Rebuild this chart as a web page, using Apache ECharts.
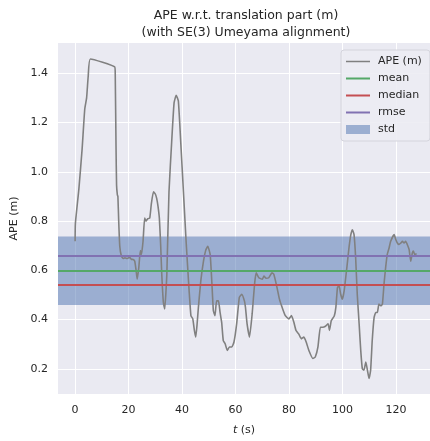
<!DOCTYPE html>
<html>
<head>
<meta charset="utf-8">
<script src="https://cdn.jsdelivr.net/npm/echarts@6/dist/echarts.min.js"></script>
<style>
  html, body { margin: 0; padding: 0; background: #ffffff; }
  #chart { width: 430px; height: 441px; }
</style>
</head>
<body>
<div id="chart"></div>
<script>
// Absolute pose error over time (seconds, metres)
const times = [
  0.0, 0.1, 1.4, 2.6, 3.6, 4.3, 4.9, 5.7, 14.8, 15.0, 15.3, 15.5, 15.8, 16.0, 16.3, 16.7,
  17.3, 18.0, 18.6, 19.5, 20.4, 21.0, 21.7, 22.3, 22.8, 23.2, 23.8, 24.4, 24.8, 25.4, 26.0,
  26.5, 27.2, 27.9, 28.5, 29.3, 30.0, 30.5, 31.0, 31.5, 32.0, 32.4, 33.0, 33.5, 34.0, 34.3,
  35.1, 36.1, 37.0, 37.8, 38.6, 39.5, 40.5, 41.5, 42.4, 43.3, 44.0, 44.6, 45.1, 45.6, 46.1,
  47.0, 48.0, 48.8, 49.6, 50.5, 51.1, 51.7, 52.3, 52.9, 53.6, 54.2, 54.8, 55.4, 56.1, 56.9,
  57.7, 58.6, 59.4, 60.4, 61.4, 62.3, 63.3, 63.7, 64.3, 65.2, 66.2, 67.1, 67.7, 68.7, 70.0,
  70.6, 71.4, 72.4, 73.6, 74.3, 75.5, 76.4, 77.4, 78.6, 79.9, 80.9, 81.8, 82.6, 83.6, 84.6,
  85.5, 86.4, 87.4, 88.9, 89.8, 90.8, 91.7, 92.6, 93.6, 94.6, 95.1, 95.8, 96.9, 97.5, 98.1,
  98.7, 99.3, 99.9, 100.6, 101.6, 102.4, 103.1, 103.7, 104.3, 104.9, 105.5, 106.2, 106.8,
  107.4, 108.0, 108.7, 109.3, 109.9, 110.5, 111.1, 111.8, 112.4, 113.0, 113.6, 114.3, 114.9,
  115.5, 116.1, 116.7, 117.4, 118.0, 119.3, 119.9, 120.5, 121.1, 121.8, 122.4, 123.0, 123.6,
  124.2, 124.9, 125.5, 126.1, 126.5, 127.0, 127.7
];
const apeValues = [
  0.718, 0.79, 0.93, 1.09, 1.254, 1.30, 1.389, 1.458, 1.426, 1.40, 1.10, 0.946, 0.906, 0.90, 0.80, 0.698,
  0.658, 0.648, 0.651, 0.648, 0.653, 0.645, 0.644, 0.637, 0.60, 0.564, 0.61, 0.68, 0.664, 0.718, 0.812,
  0.80, 0.81, 0.812, 0.87, 0.919, 0.91, 0.892, 0.86, 0.812, 0.70, 0.584, 0.47, 0.443, 0.52, 0.584,
  0.919, 1.12, 1.28, 1.311, 1.288, 1.12, 0.919, 0.718, 0.557, 0.416, 0.403, 0.356, 0.329, 0.38, 0.45,
  0.557, 0.637, 0.68, 0.698, 0.664, 0.557, 0.436, 0.416, 0.476, 0.476, 0.429, 0.389, 0.315, 0.302, 0.275,
  0.289, 0.289, 0.309, 0.383, 0.49, 0.503, 0.476, 0.45, 0.383, 0.329, 0.423, 0.544, 0.59, 0.57, 0.564,
  0.577, 0.568, 0.57, 0.59, 0.584, 0.53, 0.483, 0.45, 0.416, 0.403, 0.416, 0.389, 0.356, 0.342, 0.322,
  0.329, 0.309, 0.275, 0.242, 0.248, 0.289, 0.369, 0.369, 0.373, 0.383, 0.356, 0.396, 0.415, 0.45, 0.53,
  0.537, 0.503, 0.483, 0.517, 0.61, 0.691, 0.745, 0.765, 0.745, 0.651, 0.503, 0.383, 0.275,
  0.2, 0.195, 0.228, 0.195, 0.161, 0.195, 0.315, 0.409, 0.429, 0.429, 0.463, 0.456, 0.463,
  0.544, 0.61, 0.664, 0.691, 0.718, 0.745, 0.725, 0.711, 0.705, 0.711, 0.718, 0.711, 0.718,
  0.705, 0.684, 0.637, 0.671, 0.678, 0.664, 0.667
];

// Summary statistics of the error
const apeMean = 0.598;
const apeMedian = 0.537;
const apeRmse = 0.660;
const apeStd = 0.139;

const xTicks = [0, 20, 40, 60, 80, 100, 120];
const yTicks = [0.2, 0.4, 0.6, 0.8, 1.0, 1.2, 1.4];

const FONT = 'DejaVu Sans';
const TEXT = '#262626';
const STD_FILL = 'rgba(76,114,176,0.5)';
const APE_COLOR = '#808080';
const MEAN_COLOR = '#55A868';
const MEDIAN_COLOR = '#C44E52';
const RMSE_COLOR = '#8172B2';

// Legend swatch: a thin horizontal stripe centred in a 24x9 box
function stripeIcon(h) {
  const y0 = (9 - h) / 2, y1 = y0 + h;
  return 'path://M0,0 L0.01,0 L0,0 Z M0,' + y0 + ' L24,' + y0 + ' L24,' + y1 + ' L0,' + y1 +
         ' Z M23.99,9 L24,9 L24,8.99 Z';
}

const chart = echarts.init(document.getElementById('chart'), null, { renderer: 'canvas' });

function statSeries(name, value, color) {
  return {
    name: name,
    type: 'line',
    data: [],
    symbol: 'none',
    color: color,
    lineStyle: { color: color, width: 2 },
    z: 3,
    markLine: {
      silent: true,
      symbol: ['none', 'none'],
      label: { show: false },
      lineStyle: { color: color, width: 2, type: 'solid' },
      emphasis: { disabled: true },
      animation: false,
      data: [{ yAxis: value }]
    }
  };
}

chart.setOption({
  animation: false,
  backgroundColor: '#ffffff',
  textStyle: { fontFamily: FONT },
  title: {
    text: 'APE w.r.t. translation part (m)\n(with SE(3) Umeyama alignment)',
    left: 246,
    top: 7,
    textAlign: 'center',
    padding: 0,
    textStyle: { fontFamily: FONT, fontSize: 12.5, fontWeight: 'normal', color: TEXT, lineHeight: 17 }
  },
  legend: {
    orient: 'vertical',
    left: 341,
    top: 50,
    padding: [6, 8, 6, 5],
    itemWidth: 24,
    itemHeight: 9,
    itemGap: 6,
    backgroundColor: 'rgba(236,236,243,0.9)',
    borderColor: '#d4d4dc',
    borderWidth: 1,
    borderRadius: 3,
    selectedMode: false,
    textStyle: { fontFamily: FONT, fontSize: 11, color: TEXT, lineHeight: 11, padding: [0, 0, 0, 3] },
    data: [
      { name: 'APE (m)', icon: stripeIcon(1.6), itemStyle: { color: APE_COLOR } },
      { name: 'mean', icon: stripeIcon(2), itemStyle: { color: MEAN_COLOR } },
      { name: 'median', icon: stripeIcon(2), itemStyle: { color: MEDIAN_COLOR } },
      { name: 'rmse', icon: stripeIcon(2), itemStyle: { color: RMSE_COLOR } },
      { name: 'std', icon: 'rect', itemStyle: { color: STD_FILL } }
    ]
  },
  grid: {
    left: 58,
    right: 0,
    top: 43,
    bottom: 44,
    show: true,
    backgroundColor: '#EAEAF2',
    borderWidth: 0,
    containLabel: false
  },
  xAxis: {
    type: 'value',
    min: -6.4,
    max: 132.7,
    axisLine: { show: false },
    axisTick: { show: false, customValues: xTicks },
    axisLabel: {
      customValues: xTicks,
      margin: 11,
      fontFamily: FONT,
      fontSize: 11,
      color: TEXT,
      formatter: v => String(v)
    },
    splitLine: { show: true, lineStyle: { color: '#ffffff', width: 1 } },
    name: '{it|t} (s)',
    nameLocation: 'middle',
    nameGap: 31,
    nameTextStyle: {
      fontFamily: FONT,
      fontSize: 11,
      color: TEXT,
      rich: { it: { fontStyle: 'italic', fontFamily: FONT, fontSize: 11, color: TEXT } }
    }
  },
  yAxis: {
    type: 'value',
    min: 0.098,
    max: 1.523,
    axisLine: { show: false },
    axisTick: { show: false, customValues: yTicks },
    axisLabel: {
      customValues: yTicks,
      margin: 10,
      fontFamily: FONT,
      fontSize: 11,
      color: TEXT,
      formatter: v => v.toFixed(1)
    },
    splitLine: { show: true, lineStyle: { color: '#ffffff', width: 1 } },
    name: 'APE (m)',
    nameLocation: 'middle',
    nameGap: 29,
    nameTextStyle: { fontFamily: FONT, fontSize: 11, color: TEXT }
  },
  series: [
    {
      // std band sits underneath every line
      name: 'std',
      type: 'line',
      data: [],
      symbol: 'none',
      color: STD_FILL,
      z: 1,
      markArea: {
        silent: true,
        z: 1,
        itemStyle: { color: STD_FILL },
        emphasis: { disabled: true },
        data: [[{ yAxis: apeMean - apeStd }, { yAxis: apeMean + apeStd }]]
      }
    },
    {
      name: 'APE (m)',
      type: 'line',
      data: times.map((t, i) => [t, apeValues[i]]),
      symbol: 'none',
      showSymbol: false,
      smooth: 0.15,
      color: APE_COLOR,
      lineStyle: { color: APE_COLOR, width: 1.6 },
      z: 2
    },
    statSeries('mean', apeMean, MEAN_COLOR),
    statSeries('median', apeMedian, MEDIAN_COLOR),
    statSeries('rmse', apeRmse, RMSE_COLOR)
  ]
});
</script>
</body>
</html>
